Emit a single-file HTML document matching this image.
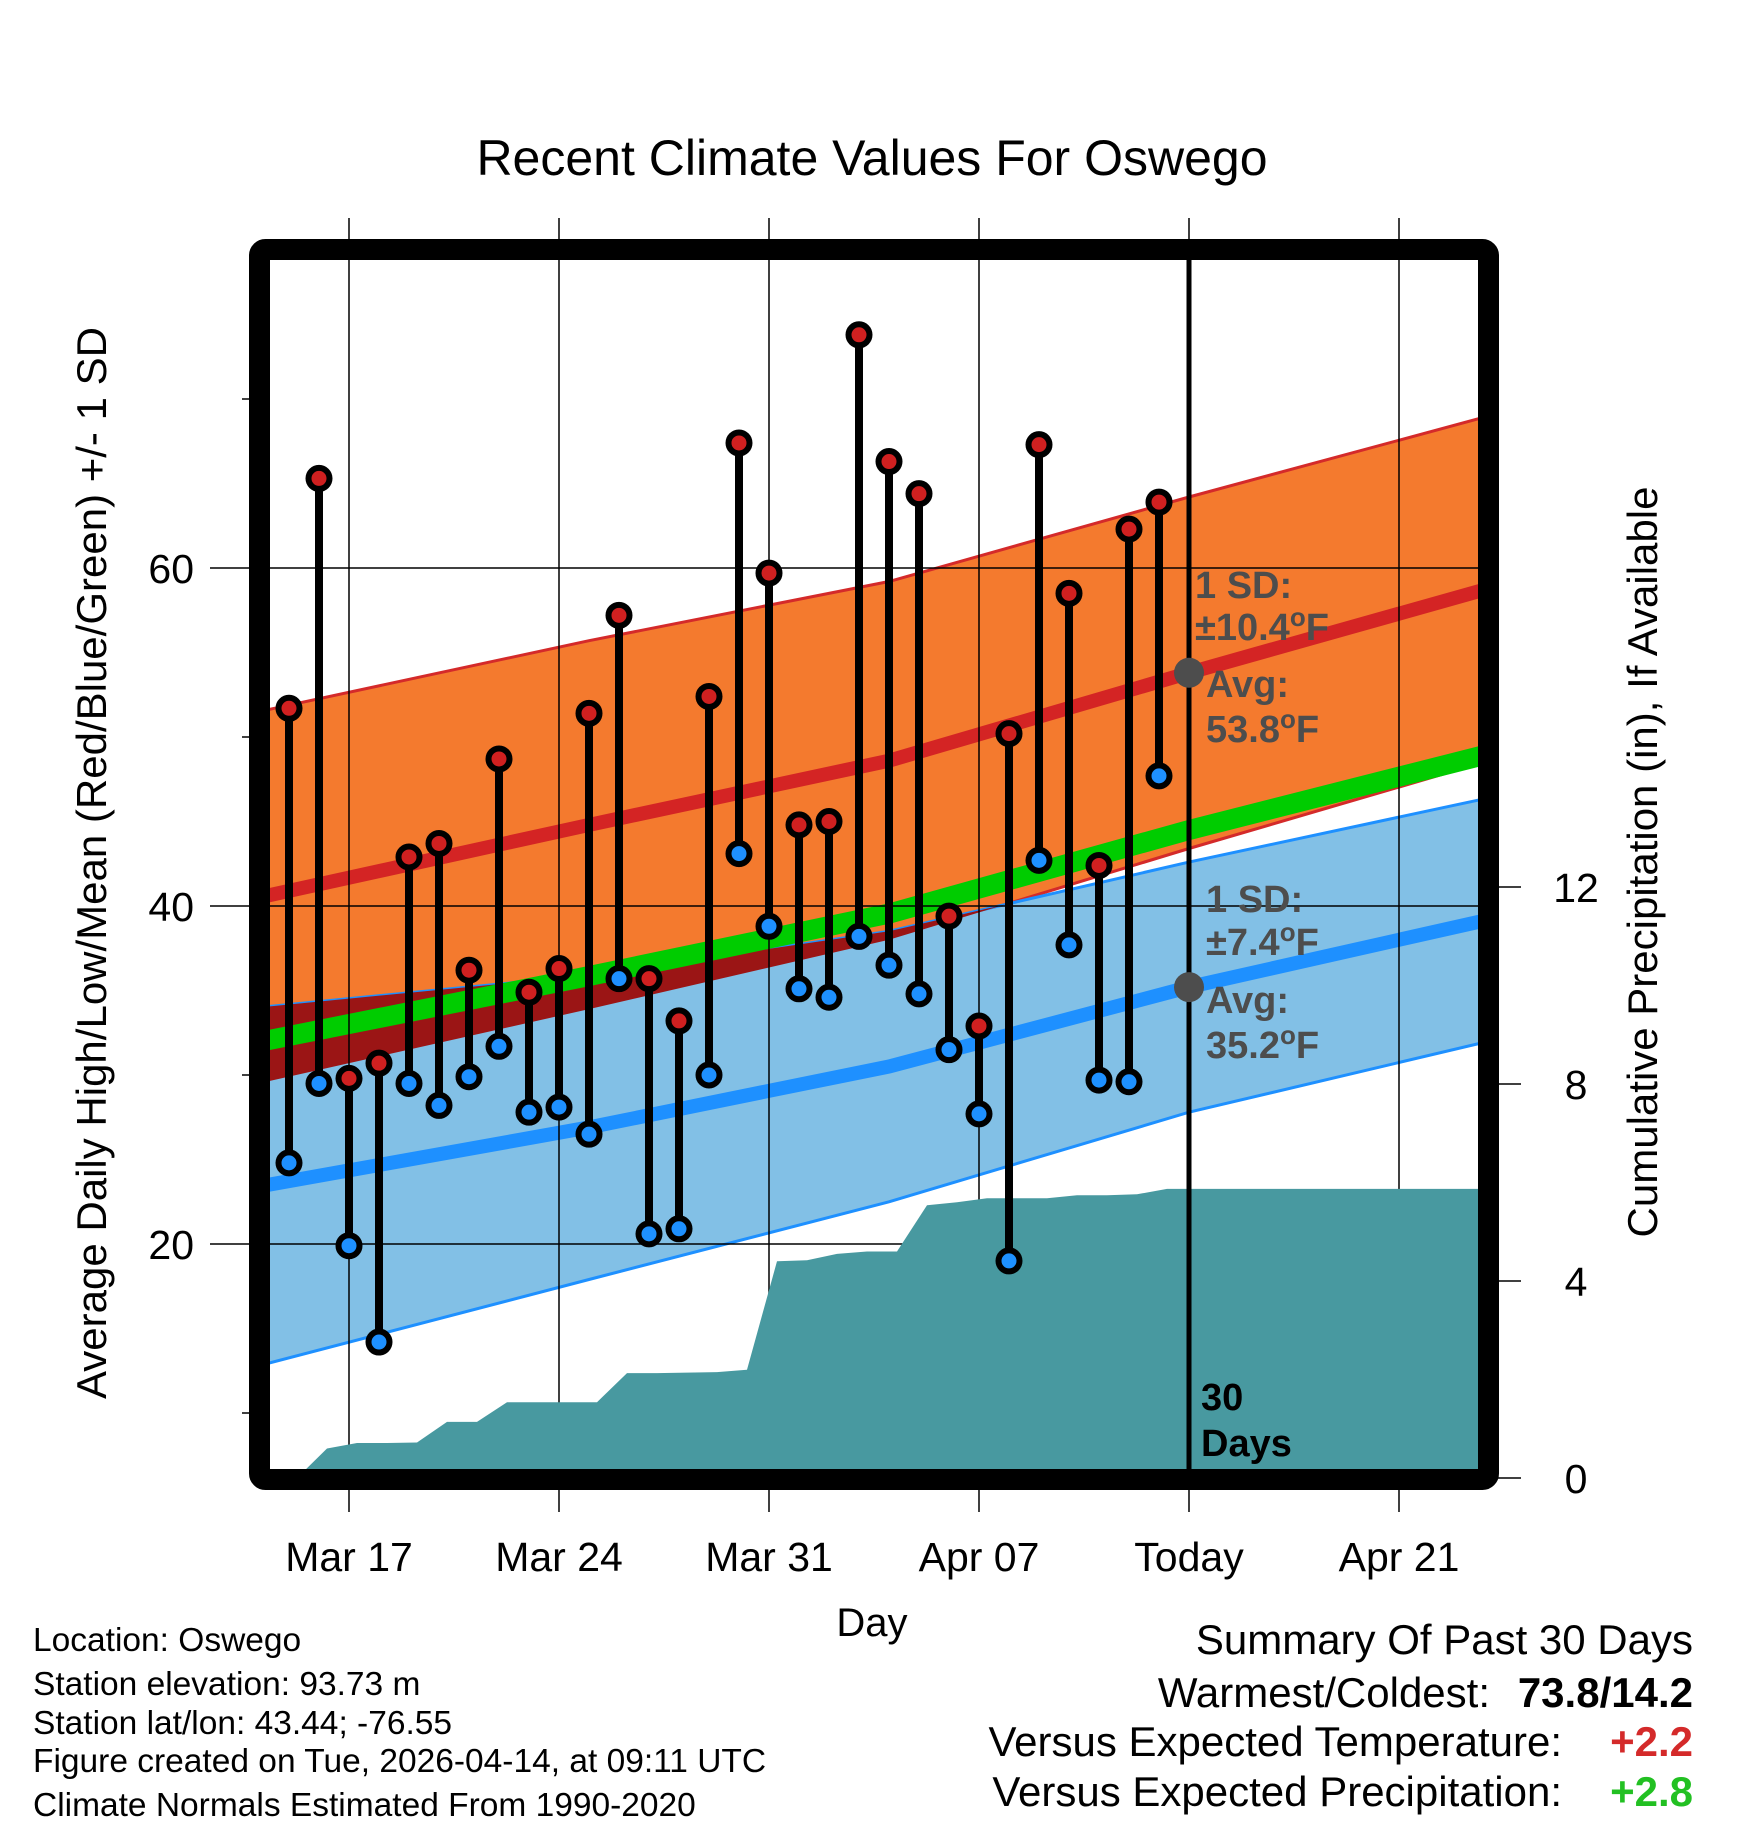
<!DOCTYPE html>
<html><head><meta charset="utf-8"><style>
html,body{margin:0;padding:0;background:#fff}
svg{display:block;font-family:"Liberation Sans",sans-serif}
</style></head><body>
<svg id="chart" width="1748" height="1828" viewBox="0 0 1748 1828" xmlns="http://www.w3.org/2000/svg">
<defs><clipPath id="plotclip"><rect x="270" y="260" width="1210" height="1212"/></clipPath></defs>
<text x="872" y="175" font-size="50" text-anchor="middle">Recent Climate Values For Oswego</text>
<g id="bands" clip-path="url(#plotclip)"></g>
<g id="grid"></g>
<g id="precip" clip-path="url(#plotclip)"></g>
<g id="stems"></g>
<g id="annot">
<line x1="1189" y1="260" x2="1189" y2="1472" stroke="#000" stroke-width="5"/>
<g fill="#4d4d4d" font-weight="bold" font-size="38">
<text x="1195" y="598">1 SD:</text>
<text x="1195" y="640">±10.4<tspan dy="-14" font-size="26">o</tspan><tspan dy="14">F</tspan></text>
<text x="1206" y="697">Avg:</text>
<text x="1206" y="742">53.8<tspan dy="-14" font-size="26">o</tspan><tspan dy="14">F</tspan></text>
<text x="1206" y="912">1 SD:</text>
<text x="1206" y="955">±7.4<tspan dy="-14" font-size="26">o</tspan><tspan dy="14">F</tspan></text>
<text x="1206" y="1013">Avg:</text>
<text x="1206" y="1058">35.2<tspan dy="-14" font-size="26">o</tspan><tspan dy="14">F</tspan></text>
</g>
<text x="1201" y="1410" font-size="38" font-weight="bold">30</text>
<text x="1201" y="1456" font-size="38" font-weight="bold">Days</text>
</g>
<rect x="259.5" y="249.5" width="1229" height="1230" fill="none" stroke="#000" stroke-width="21" rx="6"/>
<g id="axes" font-size="41"></g>
<text transform="translate(106,863) rotate(-90)" font-size="42" text-anchor="middle">Average Daily High/Low/Mean (Red/Blue/Green) +/- 1 SD</text>
<text transform="translate(1657,862) rotate(-90)" font-size="42" text-anchor="middle">Cumulative Precipitation (in), If Available</text>
<text x="872" y="1636" font-size="40" text-anchor="middle">Day</text>
<g font-size="33.5">
<text x="33" y="1651">Location: Oswego</text>
<text x="33" y="1695">Station elevation: 93.73 m</text>
<text x="33" y="1734">Station lat/lon: 43.44; -76.55</text>
<text x="33" y="1772">Figure created on Tue, 2026-04-14, at 09:11 UTC</text>
<text x="33" y="1816">Climate Normals Estimated From 1990-2020</text>
</g>
<g font-size="42">
<text x="1693" y="1654" text-anchor="end">Summary Of Past 30 Days</text>
<text x="1490" y="1707" text-anchor="end">Warmest/Coldest:</text>
<text x="1693" y="1707" text-anchor="end" font-weight="bold">73.8/14.2</text>
<text x="1562" y="1756" text-anchor="end">Versus Expected Temperature:</text>
<text x="1693" y="1756" text-anchor="end" font-weight="bold" fill="#d42a2a">+2.2</text>
<text x="1562" y="1806" text-anchor="end">Versus Expected Precipitation:</text>
<text x="1693" y="1806" text-anchor="end" font-weight="bold" fill="#22c022">+2.8</text>
</g>
</svg>
<script>
// daily observations, Mar 15 .. Apr 13
const dayIdx = [0,1,2,3,4,5,6,7,8,9,10,11,12,13,14,15,16,17,18,19,20,21,22,23,24,25,26,27,28,29];
const highs = [51.7,65.3,29.8,30.7,42.9,43.7,36.2,48.7,34.9,36.3,51.4,57.2,35.7,33.2,52.4,67.4,59.7,44.8,45.0,73.8,66.3,64.4,39.4,32.9,50.2,67.3,58.5,42.4,62.3,63.9];
const lows = [24.8,29.5,19.9,14.2,29.5,28.2,29.9,31.7,27.8,28.1,26.5,35.7,20.6,20.9,30.0,43.1,38.8,35.1,34.6,38.2,36.5,34.8,31.5,27.7,19.0,42.7,37.7,29.7,29.6,47.7];
const precipCum = [0,0.6,0.71,0.71,0.72,1.14,1.14,1.54,1.54,1.54,1.54,2.13,2.13,2.14,2.15,2.2,4.4,4.42,4.55,4.6,4.6,5.54,5.6,5.68,5.68,5.68,5.74,5.74,5.76,5.87];
// climate normals at anchor days
const normDays = [-1,10,20,30,40];
const normHigh = [40.5,44.8,48.6,53.8,58.8];
const normHighSD = [11.0,10.9,10.6,10.4,10.2];
const normLow = [23.4,26.9,30.5,35.2,39.2];
const normLowSD = [10.6,9.0,8.0,7.4,7.2];
const xTickDays = [2,9,16,23,30,37];
const xTickLabels = ["Mar 17","Mar 24","Mar 31","Apr 07","Today","Apr 21"];
const yTicks = [20,40,60];
const yMinor = [10,30,50,70];
const y2Ticks = [0,4,8,12];

const X = d => 289 + 30*d;
const Y = v => 568 + (60 - v)*16.9;
const YP = p => 1478 - p*49.25;
const NS = "http://www.w3.org/2000/svg";
function mk(tag, attrs, parent){const e=document.createElementNS(NS,tag);for(const k in attrs)e.setAttribute(k,attrs[k]);parent.appendChild(e);return e;}
const pts = arr => arr.map(p=>p[0].toFixed(1)+","+p[1].toFixed(1)).join(" ");

const bands = document.getElementById("bands");
const hiUp = normDays.map((d,i)=>[X(d),Y(normHigh[i]+normHighSD[i])]);
const hiLo = normDays.map((d,i)=>[X(d),Y(normHigh[i]-normHighSD[i])]);
const loUp = normDays.map((d,i)=>[X(d),Y(normLow[i]+normLowSD[i])]);
const loLo = normDays.map((d,i)=>[X(d),Y(normLow[i]-normLowSD[i])]);
const hiPoly = hiUp.concat(hiLo.slice().reverse());
const loPoly = loUp.concat(loLo.slice().reverse());
const defs = document.querySelector("defs");
const cp = mk("clipPath",{id:"hiclip"},defs);
mk("polygon",{points:pts(hiPoly)},cp);
let e;
e = mk("polygon",{points:pts(hiPoly),fill:"#f47a2e",stroke:"#d42a2a","stroke-width":3},bands);


e = mk("polygon",{points:pts(loPoly),fill:"#82c0e6",stroke:"#1e90ff","stroke-width":3},bands);


e = mk("polygon",{points:pts(loPoly),fill:"#9b1515","clip-path":"url(#hiclip)"},bands);


e = mk("polyline",{points:pts(normDays.map((d,i)=>[X(d),Y((normHigh[i]+normLow[i])/2)])),fill:"none",stroke:"#00cc00","stroke-width":20},bands);


e = mk("polyline",{points:pts(normDays.map((d,i)=>[X(d),Y(normHigh[i])])),fill:"none",stroke:"#d42424","stroke-width":14},bands);


e = mk("polyline",{points:pts(normDays.map((d,i)=>[X(d),Y(normLow[i])])),fill:"none",stroke:"#1e90ff","stroke-width":14},bands);



const grid = document.getElementById("grid");
xTickDays.forEach(d=>{
  const l = mk("line",{x1:X(d),y1:218,x2:X(d),y2:1512,stroke:"#000","stroke-width":1.5},grid);
  
  
});
yTicks.forEach(v=>{
  const l = mk("line",{x1:210,y1:Y(v),x2:1478,y2:Y(v),stroke:"#000","stroke-width":1.5},grid);
  
  
});
yMinor.forEach(v=>{
  const l = mk("line",{x1:242,y1:Y(v),x2:252,y2:Y(v),stroke:"#000","stroke-width":1.5},grid);
  
  
});
y2Ticks.forEach(p=>{
  const l = mk("line",{x1:1490,y1:YP(p),x2:1521,y2:YP(p),stroke:"#000","stroke-width":1.5},grid);
  
  
});

const pg = document.getElementById("precip");
const pp = dayIdx.map((d,i)=>[X(d)+8,YP(precipCum[i])]);
pp.push([1482,YP(precipCum[precipCum.length-1])]);
pp.push([1482,1482]);pp.push([X(0)+8,1482]);
e = mk("polygon",{points:pts(pp),fill:"#4899a0"},pg);



const sg = document.getElementById("stems");
dayIdx.forEach((d,i)=>{
  const x = X(d);
  const s = mk("line",{x1:x,y1:Y(highs[i]),x2:x,y2:Y(lows[i]),stroke:"#000","stroke-width":8},sg);
  
  
});
dayIdx.forEach((d,i)=>{
  const x = X(d);
  const h = mk("circle",{cx:x,cy:Y(highs[i]),r:10.5,fill:"#d02020",stroke:"#000","stroke-width":6},sg);
  
  
  const l = mk("circle",{cx:x,cy:Y(lows[i]),r:10.5,fill:"#1e90ff",stroke:"#000","stroke-width":6},sg);
  
  
});
const ag = document.getElementById("annot");
e = mk("circle",{cx:1189,cy:Y(53.8),r:15,fill:"#4d4d4d"},ag);


e = mk("circle",{cx:1189,cy:Y(35.2),r:15,fill:"#4d4d4d"},ag);



const ax = document.getElementById("axes");
yTicks.forEach(v=>{
  const t = mk("text",{x:194,y:Y(v)+15,"text-anchor":"end"},ax);
  t.textContent = v;
  
  
});
y2Ticks.forEach(p=>{
  const t = mk("text",{x:1576,y:YP(p)+15,"text-anchor":"middle"},ax);
  t.textContent = p;
  
  
});
xTickDays.forEach((d,i)=>{
  const t = mk("text",{x:X(d),y:1571,"text-anchor":"middle"},ax);
  t.textContent = xTickLabels[i];
  
  
});
</script>
</body></html>
